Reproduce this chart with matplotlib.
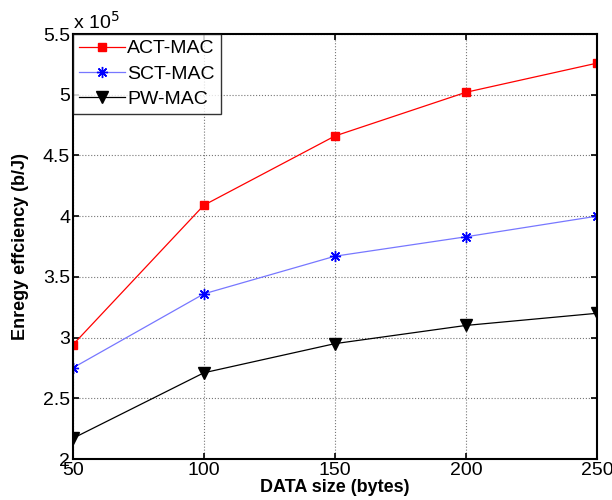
import matplotlib
matplotlib.use("Agg")
import matplotlib.pyplot as plt
from matplotlib.ticker import FuncFormatter

plt.rcParams['font.family'] = ['Liberation Sans', 'DejaVu Sans']

data_size = [50, 100, 150, 200, 250]
act_mac = [2.94, 4.09, 4.66, 5.02, 5.26]   # x 1e5
sct_mac = [2.75, 3.36, 3.67, 3.83, 4.00]
pw_mac = [2.17, 2.71, 2.95, 3.10, 3.20]

fig = plt.figure(figsize=(6.12, 5.0), dpi=100)
ax = fig.add_axes([0.119, 0.082, 0.8565, 0.85])

ax.plot(data_size, act_mac, color='red', lw=0.9, marker='s', ms=6, label='ACT-MAC')
ax.plot(data_size, sct_mac, color='#7777ff', lw=0.9, marker=(8, 2, 0), ms=8,
        mfc='blue', mec='blue', mew=1.0, label='SCT-MAC')
ax.plot(data_size, pw_mac, color='black', lw=0.9, marker='v', ms=8, label='PW-MAC')

ax.set_xlim(50, 250)
ax.set_ylim(2, 5.5)
ax.set_xticks([50, 100, 150, 200, 250])
ax.set_yticks([2, 2.5, 3, 3.5, 4, 4.5, 5, 5.5])
ax.yaxis.set_major_formatter(FuncFormatter(lambda v, p: ('%g' % v)))
ax.grid(True, linestyle=':', color='#777777', lw=0.8)
ax.tick_params(direction='in', top=True, right=True, labelsize=14, length=4, width=1.2, pad=2)
for s in ax.spines.values():
    s.set_linewidth(1.5)

ax.set_xlabel('DATA size (bytes)', fontsize=13, fontweight='bold', labelpad=0)
ax.set_ylabel('Enregy effciency (b/J)', fontsize=13, fontweight='bold', labelpad=10)
ax.text(0.0, 1.003, r'x 10$^5$', transform=ax.transAxes, fontsize=14, ha='left', va='bottom')

leg = ax.legend(loc='upper left', fontsize=14, frameon=True, fancybox=False,
                edgecolor='black', borderaxespad=0, handlelength=2.4,
                labelspacing=0.4, borderpad=0.3, handletextpad=0.1)
leg.get_frame().set_linewidth(1.0)

fig.savefig('out.png', dpi=100)
